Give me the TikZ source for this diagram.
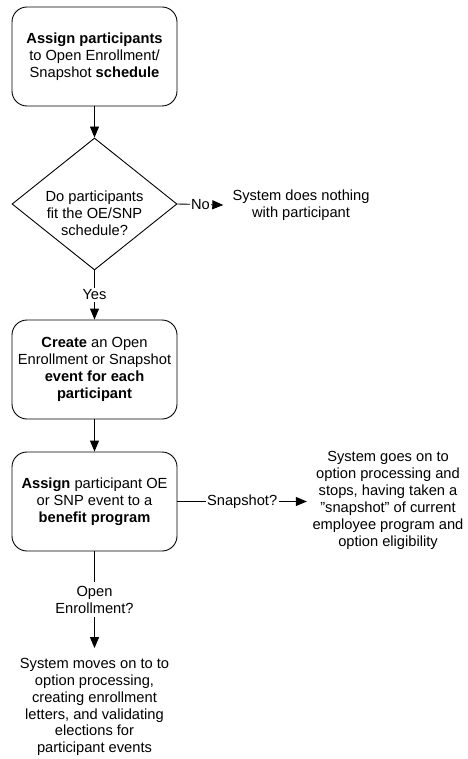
\documentclass[tikz,border=0pt]{standalone}
\usepackage{fontspec}
\setmainfont{Liberation Sans}
\usetikzlibrary{arrows.meta,shapes.geometric}
\begin{document}
\begin{tikzpicture}[x=1pt,y=-1pt,
  every node/.style={font=\fontsize{14.67pt}{16.9pt}\selectfont, align=center},
  stepbox/.style={draw, line width=0.9pt, rounded corners=15pt, minimum width=165pt, minimum height=99pt, inner sep=0pt},
  decision/.style={draw, line width=0.9pt, shape=diamond, minimum width=165pt, minimum height=132pt, inner sep=0pt},
  plain/.style={inner sep=3pt},
  lbl/.style={fill=white, inner sep=1.5pt},
  conn/.style={line width=0.9pt},
  arr/.style={line width=0.9pt, -{Triangle[length=11pt,width=9pt]}}
]
\useasboundingbox (0,0) rectangle (467,759);

\node[stepbox] (b1) at (94.5,56.5) {\textbf{Assign participants}\\to Open Enrollment/\\Snapshot \textbf{schedule}};
\node[decision] (d) at (94.5,204) {};
\node[plain] (dtext) at (94.5,213) {Do participants\\fit the OE/SNP\\schedule?};
\node[plain, inner xsep=9pt] (nothing) at (301,205) {System does nothing\\with participant};
\node[stepbox] (b2) at (94.5,369.5) {\textbf{Create} an Open\\Enrollment or Snapshot\\\textbf{event for each}\\\textbf{participant}};
\node[stepbox] (b3) at (94.5,501.5) {\textbf{Assign} participant OE\\or SNP event to a\\\textbf{benefit program}};
\node[plain, inner xsep=5.5pt] (snap) at (388,500.5) {System goes on to\\option processing and\\stops, having taken a\\"snapshot" of current\\employee program and\\option eligibility};
\node[plain, outer ysep=7pt] (oe) at (94.5,707) {System moves on to to\\option processing,\\creating enrollment\\letters, and validating\\elections for\\participant events};

\draw[arr] (b1) -- (d);
\draw[arr] (d.east) -- node[lbl] {No} (nothing.west);
\draw[arr] (d.south) -- node[lbl] {Yes} (b2.north);
\draw[arr] (b2) -- (b3);
\draw[arr] (b3.east) -- node[lbl] {Snapshot?} (snap.west |- b3.east);
\draw[arr] (b3.south) -- node[lbl, inner sep=4pt] {Open\\Enrollment?} (oe.north);
\end{tikzpicture}
\end{document}
